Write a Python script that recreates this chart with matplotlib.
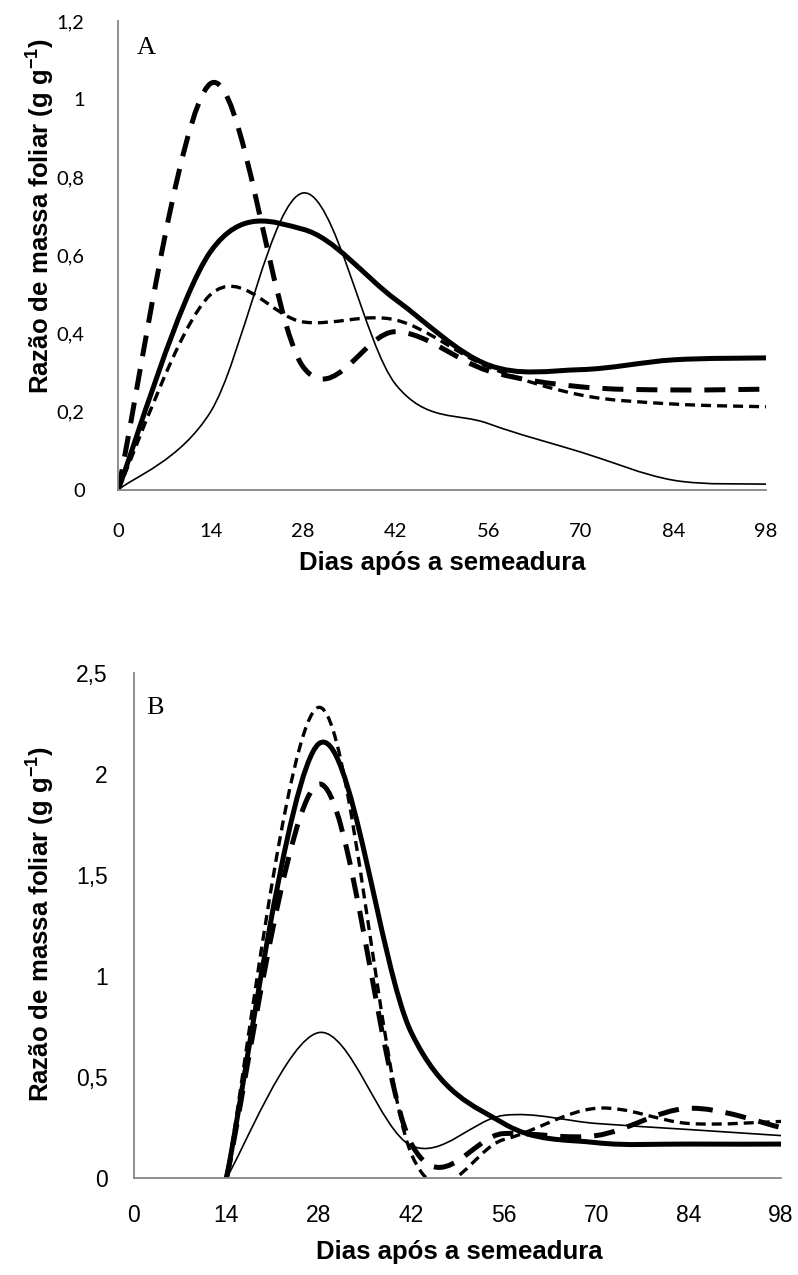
import matplotlib
matplotlib.use("Agg")
import matplotlib.pyplot as plt
from matplotlib.path import Path
from matplotlib.patches import PathPatch
import numpy as np

# dias apos a semeadura
days = [0, 14, 28, 42, 56, 70, 84, 98]

# painel A - razao de massa foliar (g g-1)
a_thick = [0, 0.61, 0.667, 0.487, 0.32, 0.308, 0.333, 0.338]
a_thin = [0, 0.20, 0.76, 0.27, 0.17, 0.097, 0.025, 0.015]
a_bigdash = [0, 1.04, 0.315, 0.405, 0.305, 0.264, 0.256, 0.258]
a_smalldash = [0, 0.50, 0.43, 0.435, 0.315, 0.243, 0.22, 0.213]

# painel B - sem dado aos 0 dias
b_thick = [None, 0, 2.15, 0.72, 0.27, 0.175, 0.168, 0.168]
b_thin = [None, 0, 0.72, 0.16, 0.31, 0.27, 0.24, 0.21]
b_bigdash = [None, 0, 1.95, 0.17, 0.22, 0.21, 0.345, 0.25]
b_smalldash = [None, 0, 2.33, 0.12, 0.19, 0.345, 0.27, 0.28]

a_yticks = [0, 0.2, 0.4, 0.6, 0.8, 1.0, 1.2]
b_yticks = [0, 0.5, 1.0, 1.5, 2.0, 2.5]

plt.rcParams["mathtext.fontset"] = "custom"
plt.rcParams["mathtext.rm"] = "Liberation Sans:bold"
plt.rcParams["mathtext.bf"] = "Liberation Sans:bold"

W, H = 798, 1275
fig = plt.figure(figsize=(W / 100, H / 100), dpi=100)


def px_axes(x0, x1, y_top, y_bot):
    return fig.add_axes([x0 / W, 1 - y_bot / H, (x1 - x0) / W, (y_bot - y_top) / H])


def fmt(v):
    s = ("%.1f" % v).rstrip("0").rstrip(".")
    return s.replace(".", ",")


# linha suavizada como no excel (bezier pelos pontos)
def smooth_line(ax, xs, ys, **kw):
    pts = np.array([(x, y) for x, y in zip(xs, ys) if y is not None], dtype=float)
    n = len(pts)
    verts = [pts[0]]
    codes = [Path.MOVETO]
    for i in range(n - 1):
        p0 = pts[i - 1] if i > 0 else pts[i]
        p1 = pts[i]
        p2 = pts[i + 1]
        p3 = pts[i + 2] if i + 2 < n else pts[i + 1]
        verts += [p1 + (p2 - p0) / 6, p2 - (p3 - p1) / 6, p2]
        codes += [Path.CURVE4] * 3
    patch = PathPatch(Path(verts, codes), fill=False, edgecolor="black",
                      joinstyle="round", capstyle="butt", **kw)
    ax.add_patch(patch)


styles = {
    "thick": dict(linewidth=3.6, linestyle="-"),
    "thin": dict(linewidth=1.2, linestyle="-"),
    "bigdash": dict(linewidth=3.6, linestyle=(0, (4.2, 2.6))),
    "smalldash": dict(linewidth=2.4, linestyle=(0, (3.0, 1.8))),
}


def style_axes(ax, ymax, yticks, tickfont, ticksize, pad):
    ax.set_xlim(0, 98)
    ax.set_ylim(0, ymax)
    for s in ["top", "right"]:
        ax.spines[s].set_visible(False)
    for s in ["left", "bottom"]:
        ax.spines[s].set_color("#868686")
        ax.spines[s].set_linewidth(1.3)
    ax.set_xticks(days)
    ax.set_xticklabels([str(d) for d in days])
    ax.set_yticks(yticks)
    ax.set_yticklabels([fmt(v) for v in yticks])
    ax.tick_params(length=0, labelsize=ticksize, pad=pad)
    for lab in ax.get_xticklabels() + ax.get_yticklabels():
        lab.set_family(tickfont)


# ---- painel A
axA = px_axes(118, 766, 21, 490)
smooth_line(axA, days, a_thin, **styles["thin"])
smooth_line(axA, days, a_smalldash, **styles["smalldash"])
smooth_line(axA, days, a_bigdash, **styles["bigdash"])
smooth_line(axA, days, a_thick, **styles["thick"])
style_axes(axA, 1.2, a_yticks, "Lato", 14.5, 24)
fig.text(146 / W, 1 - 48 / H, "A", family="Liberation Serif", fontsize=19,
         ha="center", va="center")

# ---- painel B
axB = px_axes(134, 781, 673, 1178)
smooth_line(axB, days, b_thin, **styles["thin"])
smooth_line(axB, days, b_smalldash, **styles["smalldash"])
smooth_line(axB, days, b_bigdash, **styles["bigdash"])
smooth_line(axB, days, b_thick, **styles["thick"])
style_axes(axB, 2.5, b_yticks, "Liberation Sans", 16.5, 19)
fig.text(155 / W, 1 - 708 / H, "B", family="Liberation Serif", fontsize=19,
         ha="center", va="center")

ylab = r"Razão de massa foliar (g g$^{\mathbf{-1}}$)"
xlab = "Dias após a semeadura"
lab_kw = dict(family="Liberation Sans", weight="bold", fontsize=18.5,
              ha="center", va="center")
fig.text(40 / W, 1 - 216 / H, ylab, rotation=90, **lab_kw)
fig.text(442 / W, 1 - 563 / H, xlab, **lab_kw)
fig.text(40 / W, 1 - 924 / H, ylab, rotation=90, **lab_kw)
fig.text(459 / W, 1 - 1252 / H, xlab, **lab_kw)

fig.savefig("out.png", dpi=100)
